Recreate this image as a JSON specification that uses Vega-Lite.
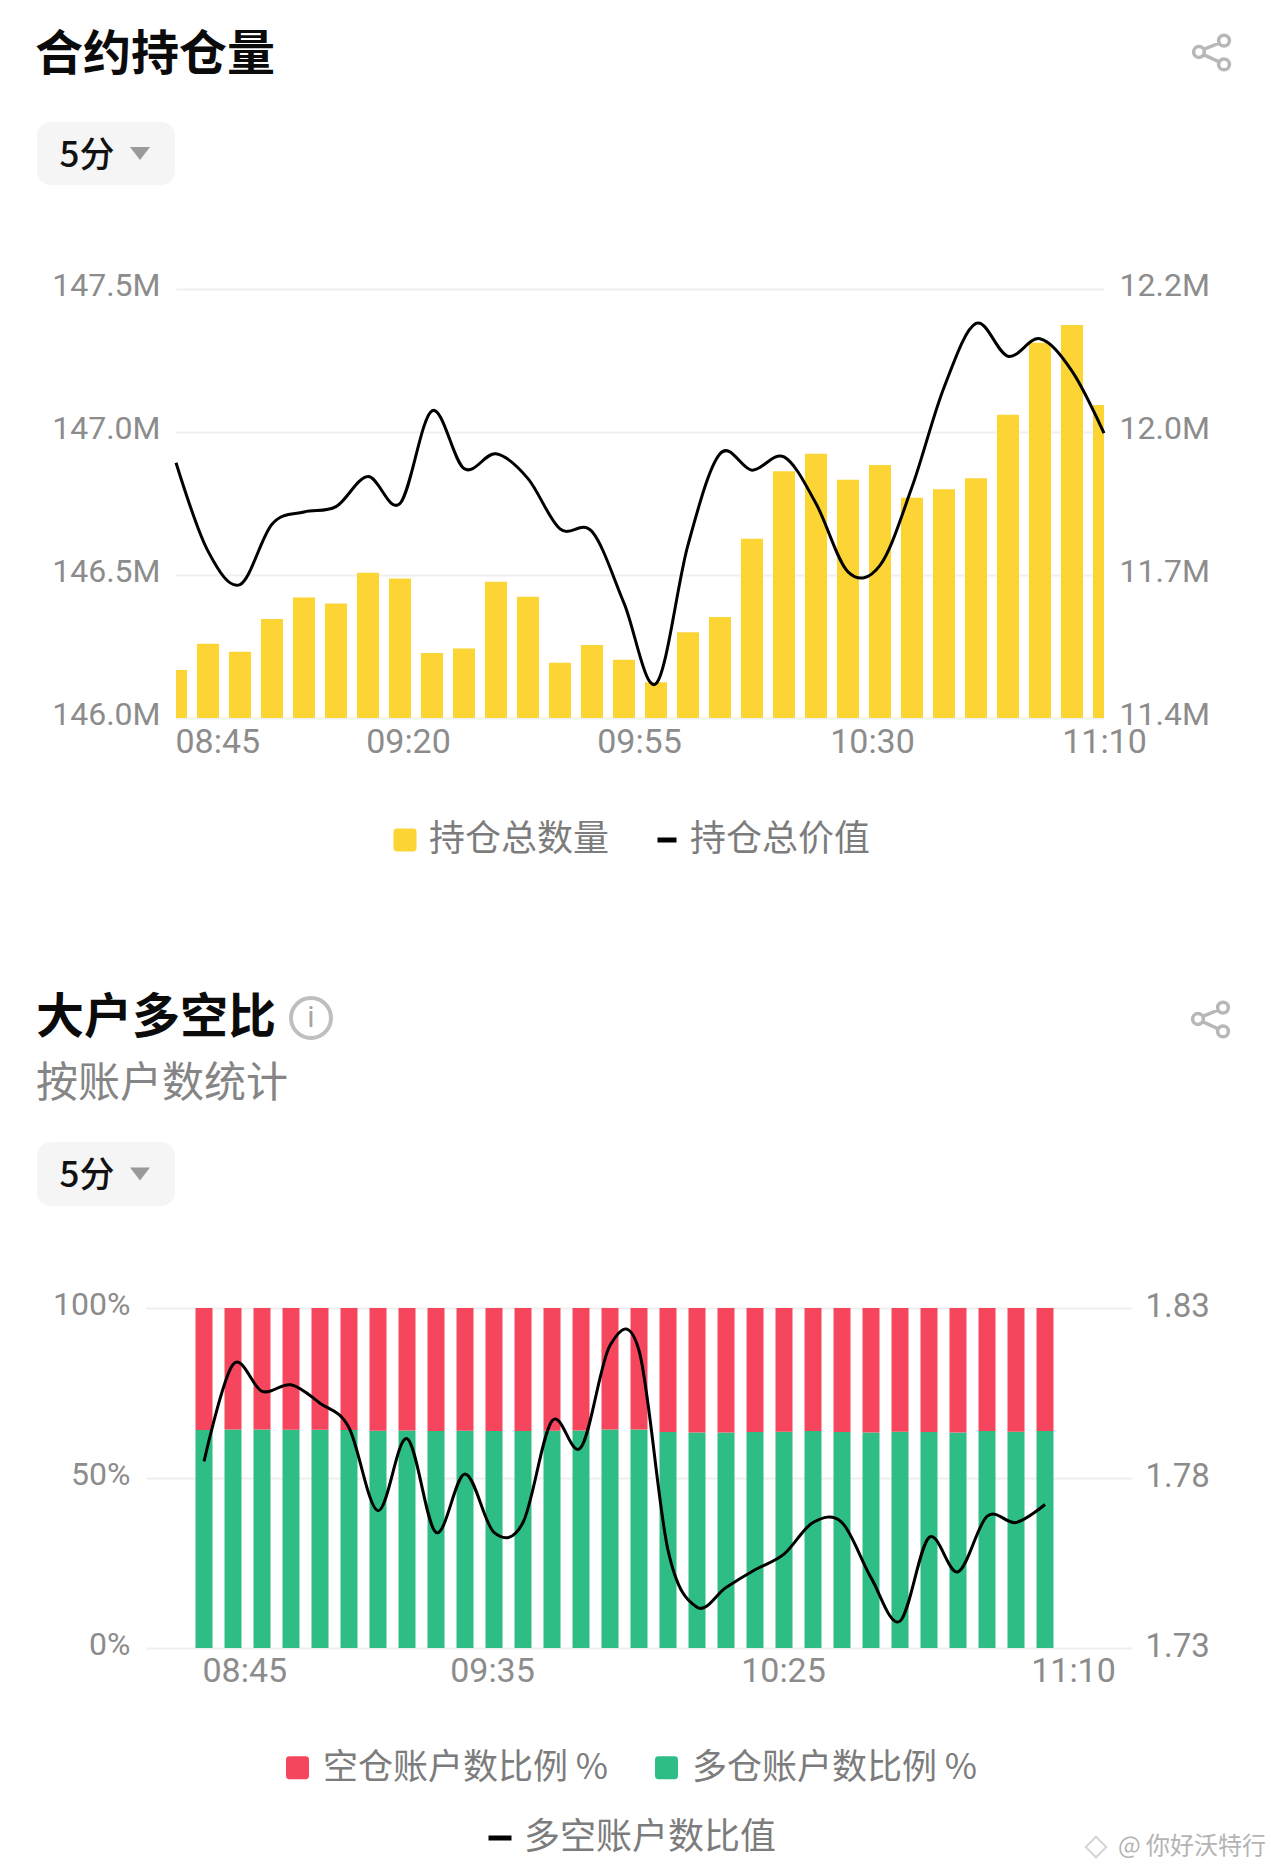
{"$schema":"https://vega.github.io/schema/vega-lite/v6.json","background":"white","padding":0,"spacing":0,"bounds":"flush","resolve":{"scale":{"fill":"independent","stroke":"independent"},"legend":{"fill":"independent","stroke":"independent"}},"config":{"view":{"stroke":null},"font":"Noto Sans CJK SC","axis":{"labelFont":"Roboto","labelColor":"#8c8c8c","labelFontSize":32,"ticks":false,"domain":false,"title":null,"gridColor":"#efefef","gridWidth":2},"legend":{"labelFont":"Noto Sans CJK SC","labelColor":"#7c7c7c","labelFontSize":36,"labelLimit":500,"title":null,"orient":"none","direction":"horizontal"}},"datasets":{"oi":[{"t":"2024-01-01T08:45:00","qty":146168000,"val":11912000},{"t":"2024-01-01T08:50:00","qty":146260000,"val":11745000},{"t":"2024-01-01T08:55:00","qty":146232000,"val":11682000},{"t":"2024-01-01T09:00:00","qty":146346000,"val":11796000},{"t":"2024-01-01T09:05:00","qty":146421000,"val":11819000},{"t":"2024-01-01T09:10:00","qty":146400000,"val":11829000},{"t":"2024-01-01T09:15:00","qty":146508000,"val":11886000},{"t":"2024-01-01T09:20:00","qty":146488000,"val":11835000},{"t":"2024-01-01T09:25:00","qty":146227000,"val":12010000},{"t":"2024-01-01T09:30:00","qty":146243000,"val":11901000},{"t":"2024-01-01T09:35:00","qty":146476000,"val":11929000},{"t":"2024-01-01T09:40:00","qty":146424000,"val":11882000},{"t":"2024-01-01T09:45:00","qty":146193000,"val":11787000},{"t":"2024-01-01T09:50:00","qty":146255000,"val":11782000},{"t":"2024-01-01T09:55:00","qty":146204000,"val":11647000},{"t":"2024-01-01T10:00:00","qty":146125000,"val":11495000},{"t":"2024-01-01T10:05:00","qty":146300000,"val":11757000},{"t":"2024-01-01T10:10:00","qty":146353000,"val":11929000},{"t":"2024-01-01T10:15:00","qty":146627000,"val":11898000},{"t":"2024-01-01T10:20:00","qty":146863000,"val":11923000},{"t":"2024-01-01T10:25:00","qty":146924000,"val":11835000},{"t":"2024-01-01T10:30:00","qty":146833000,"val":11706000},{"t":"2024-01-01T10:35:00","qty":146885000,"val":11718000},{"t":"2024-01-01T10:40:00","qty":146770000,"val":11866000},{"t":"2024-01-01T10:45:00","qty":146800000,"val":12054000},{"t":"2024-01-01T10:50:00","qty":146838000,"val":12175000},{"t":"2024-01-01T10:55:00","qty":147060000,"val":12113000},{"t":"2024-01-01T11:00:00","qty":147312000,"val":12146000},{"t":"2024-01-01T11:05:00","qty":147374000,"val":12085000},{"t":"2024-01-01T11:10:00","qty":147094000,"val":11968000}],"ls":[{"t":"2024-01-01T08:45:00","long":64.1,"ratio":1.7849},{"t":"2024-01-01T08:50:00","long":64.3,"ratio":1.8134},{"t":"2024-01-01T08:55:00","long":64.3,"ratio":1.8055},{"t":"2024-01-01T09:00:00","long":64.2,"ratio":1.8074},{"t":"2024-01-01T09:05:00","long":64.2,"ratio":1.802},{"t":"2024-01-01T09:10:00","long":64.1,"ratio":1.7948},{"t":"2024-01-01T09:15:00","long":63.9,"ratio":1.7704},{"t":"2024-01-01T09:20:00","long":64.0,"ratio":1.7916},{"t":"2024-01-01T09:25:00","long":63.8,"ratio":1.764},{"t":"2024-01-01T09:30:00","long":63.9,"ratio":1.7812},{"t":"2024-01-01T09:35:00","long":63.8,"ratio":1.764},{"t":"2024-01-01T09:40:00","long":63.8,"ratio":1.7669},{"t":"2024-01-01T09:45:00","long":63.9,"ratio":1.7968},{"t":"2024-01-01T09:50:00","long":64.0,"ratio":1.789},{"t":"2024-01-01T09:55:00","long":64.3,"ratio":1.819},{"t":"2024-01-01T10:00:00","long":64.3,"ratio":1.8175},{"t":"2024-01-01T10:05:00","long":63.5,"ratio":1.7588},{"t":"2024-01-01T10:10:00","long":63.4,"ratio":1.742},{"t":"2024-01-01T10:15:00","long":63.4,"ratio":1.7478},{"t":"2024-01-01T10:20:00","long":63.5,"ratio":1.753},{"t":"2024-01-01T10:25:00","long":63.6,"ratio":1.7576},{"t":"2024-01-01T10:30:00","long":63.8,"ratio":1.7669},{"t":"2024-01-01T10:35:00","long":63.5,"ratio":1.7669},{"t":"2024-01-01T10:40:00","long":63.4,"ratio":1.7507},{"t":"2024-01-01T10:45:00","long":63.6,"ratio":1.7379},{"t":"2024-01-01T10:50:00","long":63.5,"ratio":1.7625},{"t":"2024-01-01T10:55:00","long":63.4,"ratio":1.7524},{"t":"2024-01-01T11:00:00","long":63.8,"ratio":1.7687},{"t":"2024-01-01T11:05:00","long":63.6,"ratio":1.7669},{"t":"2024-01-01T11:10:00","long":63.8,"ratio":1.7722}]},"vconcat":[{"width":10,"height":32,"data":{"values":[{}]},"mark":{"type":"rect","opacity":0},"encoding":{}},{"spacing":0,"bounds":"flush","hconcat":[{"width":1191,"height":40,"data":{"values":[{}]},"mark":{"type":"rect","opacity":0},"encoding":{}},{"width":40,"height":40,"data":{"values":[{}]},"mark":{"type":"point","filled":false,"stroke":"#9a9a9a","strokeWidth":3.5,"size":1600,"shape":"M-0.87,0 a0.27,0.27 0 1,0 0.54,0 a0.27,0.27 0 1,0 -0.54,0 M0.38,-0.57 a0.27,0.27 0 1,0 0.54,0 a0.27,0.27 0 1,0 -0.54,0 M0.38,0.62 a0.27,0.27 0 1,0 0.54,0 a0.27,0.27 0 1,0 -0.54,0 M-0.37,-0.13 L0.42,-0.45 M-0.37,0.13 L0.42,0.5"},"encoding":{}}]},{"width":10,"height":90,"data":{"values":[{}]},"mark":{"type":"rect","opacity":0},"encoding":{}},{"spacing":0,"bounds":"flush","hconcat":[{"width":37,"height":63,"data":{"values":[{}]},"mark":{"type":"rect","opacity":0},"encoding":{}},{"width":138,"height":63,"view":{"fill":"#f5f5f5","cornerRadius":14,"stroke":null},"title":{"text":"合约持仓量","anchor":"start","frame":"group","fontSize":48,"fontWeight":"bold","color":"#0b0b0b","offset":42,"dx":-2,"font":"Noto Sans CJK SC"},"layer":[{"data":{"values":[{"k":"5分"}]},"mark":{"type":"text","fontSize":35,"fontWeight":500,"color":"#111111","font":"Noto Sans CJK SC","dy":2},"encoding":{"x":{"field":"k","type":"nominal","axis":null,"scale":{"type":"point","padding":0,"domain":["5分","▾"],"range":[50,103]}},"text":{"field":"k"}}},{"data":{"values":[{"k":"▾"}]},"mark":{"type":"point","filled":true,"fill":"#9a9a9a","size":400,"shape":"M-1,-0.65 L1,-0.65 L0,0.65 Z","opacity":1},"encoding":{"x":{"field":"k","type":"nominal","axis":null,"scale":{"type":"point","padding":0,"domain":["5分","▾"],"range":[50,103]}}}}]}]},{"width":10,"height":167,"data":{"values":[{}]},"mark":{"type":"rect","opacity":0},"encoding":{}},{"spacing":0,"bounds":"flush","resolve":{"scale":{"fill":"independent","stroke":"independent"},"legend":{"fill":"independent","stroke":"independent"}},"hconcat":[{"width":176,"height":429,"data":{"values":[{}]},"mark":{"type":"rect","opacity":0},"encoding":{}},{"width":928,"height":429,"data":{"name":"oi"},"encoding":{"x":{"field":"t","type":"temporal","scale":{"domain":["2024-01-01T08:45:00","2024-01-01T11:10:00"],"nice":false,"padding":0},"axis":{"grid":false,"format":"%H:%M","labelFontSize":34,"labelPadding":7,"labelOverlap":false,"values":["2024-01-01T08:45:00","2024-01-01T09:20:00","2024-01-01T09:55:00","2024-01-01T10:30:00","2024-01-01T11:10:00"],"labelAlign":{"condition":{"test":"hours(datum.value)==8","value":"left"},"value":"center"},"labelOffset":{"condition":[{"test":"hours(datum.value)==8","value":-1},{"test":"minutes(datum.value)==20","value":8},{"test":"minutes(datum.value)==55","value":15},{"test":"minutes(datum.value)==30","value":24}],"value":0}}}},"layer":[{"mark":{"type":"bar","width":22,"clip":true},"encoding":{"y":{"field":"qty","type":"quantitative","scale":{"domain":[146000000,147500000],"zero":false,"nice":false},"axis":{"values":[146000000,146500000,147000000,147500000],"format":".4s","grid":true,"labelPadding":16,"labelOffset":-4}},"fill":{"datum":"持仓总数量","scale":{"domain":["持仓总数量"],"range":["#FCD535"]},"legend":{"symbolType":"M-1,-0.7 Q-1,-1 -0.7,-1 L0.7,-1 Q1,-1 1,-0.7 L1,0.7 Q1,1 0.7,1 L-0.7,1 Q-1,1 -1,0.7 Z","symbolSize":529,"legendX":211,"legendY":533,"labelOffset":6}}}},{"mark":{"type":"line","interpolate":"cardinal","strokeWidth":3},"encoding":{"y":{"field":"val","type":"quantitative","scale":{"domain":[11430000,12240000],"zero":false,"nice":false},"axis":{"orient":"right","values":[11430000,11700000,11970000,12240000],"format":".3s","grid":false,"labelPadding":15,"labelOffset":-4}},"stroke":{"datum":"持仓总价值","scale":{"domain":["持仓总价值"],"range":["#000000"]},"legend":{"symbolType":"stroke","symbolSize":361,"symbolStrokeWidth":5,"legendX":473,"legendY":533,"labelOffset":5}}}}],"resolve":{"scale":{"y":"independent"},"axis":{"y":"independent"}}}]},{"width":10,"height":708,"data":{"values":[{}]},"mark":{"type":"rect","opacity":0},"encoding":{}},{"spacing":0,"bounds":"flush","hconcat":[{"width":290,"height":42,"data":{"values":[{}]},"mark":{"type":"rect","opacity":0},"encoding":{}},{"width":42,"height":42,"data":{"values":[{"k":"i"}]},"layer":[{"mark":{"type":"point","filled":false,"shape":"circle","size":1600,"stroke":"#a4a4a4","strokeWidth":4},"encoding":{}},{"mark":{"type":"text","fontSize":30,"color":"#a4a4a4","font":"Roboto"},"encoding":{"text":{"field":"k"}}}]},{"width":857,"height":44,"data":{"values":[{}]},"mark":{"type":"rect","opacity":0},"encoding":{}},{"width":42,"height":44,"data":{"values":[{}]},"mark":{"type":"point","filled":false,"stroke":"#9a9a9a","strokeWidth":3.5,"size":1600,"shape":"M-0.87,0 a0.27,0.27 0 1,0 0.54,0 a0.27,0.27 0 1,0 -0.54,0 M0.38,-0.57 a0.27,0.27 0 1,0 0.54,0 a0.27,0.27 0 1,0 -0.54,0 M0.38,0.62 a0.27,0.27 0 1,0 0.54,0 a0.27,0.27 0 1,0 -0.54,0 M-0.37,-0.13 L0.42,-0.45 M-0.37,0.13 L0.42,0.5"},"encoding":{}}]},{"width":10,"height":145,"data":{"values":[{}]},"mark":{"type":"rect","opacity":0},"encoding":{}},{"spacing":0,"bounds":"flush","hconcat":[{"width":37,"height":64,"data":{"values":[{}]},"mark":{"type":"rect","opacity":0},"encoding":{}},{"width":138,"height":64,"view":{"fill":"#f5f5f5","cornerRadius":14,"stroke":null},"title":{"text":"大户多空比","subtitle":"按账户数统计","anchor":"start","frame":"group","fontSize":48,"fontWeight":"bold","color":"#0b0b0b","offset":37,"dx":-1,"font":"Noto Sans CJK SC","subtitleFont":"Noto Sans CJK SC","subtitleFontSize":42,"subtitleColor":"#858585","subtitlePadding":21},"layer":[{"data":{"values":[{"k":"5分"}]},"mark":{"type":"text","fontSize":35,"fontWeight":500,"color":"#111111","font":"Noto Sans CJK SC","dy":2},"encoding":{"x":{"field":"k","type":"nominal","axis":null,"scale":{"type":"point","padding":0,"domain":["5分","▾"],"range":[50,103]}},"text":{"field":"k"}}},{"data":{"values":[{"k":"▾"}]},"mark":{"type":"point","filled":true,"fill":"#9a9a9a","size":400,"shape":"M-1,-0.65 L1,-0.65 L0,0.65 Z","opacity":1},"encoding":{"x":{"field":"k","type":"nominal","axis":null,"scale":{"type":"point","padding":0,"domain":["5分","▾"],"range":[50,103]}}}}]}]},{"width":10,"height":166,"data":{"values":[{}]},"mark":{"type":"rect","opacity":0},"encoding":{}},{"spacing":0,"bounds":"flush","resolve":{"scale":{"fill":"independent","stroke":"independent"},"legend":{"fill":"independent","stroke":"independent"}},"hconcat":[{"width":146,"height":340,"data":{"values":[{}]},"mark":{"type":"rect","opacity":0},"encoding":{}},{"width":986,"height":340,"data":{"name":"ls"},"encoding":{"x":{"field":"t","type":"temporal","scale":{"domain":["2024-01-01T08:35:00","2024-01-01T11:25:00"],"nice":false,"padding":0},"axis":{"grid":false,"format":"%H:%M","labelFontSize":34,"labelPadding":6,"labelOverlap":false,"values":["2024-01-01T08:45:00","2024-01-01T09:35:00","2024-01-01T10:25:00","2024-01-01T11:10:00"],"labelAlign":{"condition":{"test":"hours(datum.value)==8","value":"left"},"value":"center"},"labelOffset":{"condition":[{"test":"hours(datum.value)==8","value":-2},{"test":"hours(datum.value)==9","value":-2},{"test":"hours(datum.value)==10","value":-1},{"test":"hours(datum.value)==11","value":28}],"value":0}}}},"layer":[{"transform":[{"calculate":"100-datum.long","as":"short"},{"fold":["long","short"],"as":["side","pct"]},{"calculate":"datum.side=='long'?'多仓账户数比例 %':'空仓账户数比例 %'","as":"series"}],"mark":{"type":"bar","width":17},"encoding":{"y":{"field":"pct","type":"quantitative","stack":"zero","scale":{"domain":[0,100],"nice":false},"axis":{"values":[0,50,100],"labelExpr":"datum.value+'%'","grid":true,"labelPadding":16,"labelOffset":-4}},"order":{"field":"side","sort":"ascending"},"fill":{"field":"series","type":"nominal","scale":{"domain":["空仓账户数比例 %","多仓账户数比例 %"],"range":["#F6465D","#2EBD85"]},"legend":{"symbolType":"M-1,-0.7 Q-1,-1 -0.7,-1 L0.7,-1 Q1,-1 1,-0.7 L1,0.7 Q1,1 0.7,1 L-0.7,1 Q-1,1 -1,0.7 Z","symbolSize":529,"legendX":134,"legendY":442,"labelFontSize":35,"labelOffset":8,"columnPadding":40,"columns":2}}}},{"mark":{"type":"line","interpolate":"cardinal","strokeWidth":3},"encoding":{"y":{"field":"ratio","type":"quantitative","scale":{"domain":[1.73,1.83],"zero":false,"nice":false},"axis":{"orient":"right","values":[1.73,1.78,1.83],"format":".2f","grid":false,"labelFontSize":33,"labelPadding":13,"labelOffset":-2}},"stroke":{"datum":"多空账户数比值","scale":{"domain":["多空账户数比值"],"range":["#000000"]},"legend":{"symbolType":"stroke","symbolSize":529,"symbolStrokeWidth":5,"legendX":336,"legendY":512,"labelOffset":6}}}}],"resolve":{"scale":{"y":"independent"},"axis":{"y":"independent"}}}]},{"width":10,"height":524,"data":{"values":[{}]},"mark":{"type":"rect","opacity":0},"encoding":{}},{"spacing":0,"bounds":"flush","hconcat":[{"width":1080,"height":30,"data":{"values":[{}]},"mark":{"type":"rect","opacity":0},"encoding":{}},{"width":190,"height":30,"data":{"values":[{"k":"@ 你好沃特行"}]},"layer":[{"mark":{"type":"text","fontSize":24,"color":"#b4b4b4","font":"Noto Sans CJK SC"},"encoding":{"text":{"field":"k"},"x":{"field":"k","type":"nominal","axis":null,"scale":{"type":"point","padding":0,"range":[112,112]}}}},{"mark":{"type":"point","shape":"diamond","filled":false,"size":420,"stroke":"#c4c4c4","strokeWidth":2},"encoding":{"x":{"field":"k","type":"nominal","axis":null,"scale":{"type":"point","padding":0,"range":[16,16]}}}}],"resolve":{"scale":{"x":"independent"}}}]}]}
